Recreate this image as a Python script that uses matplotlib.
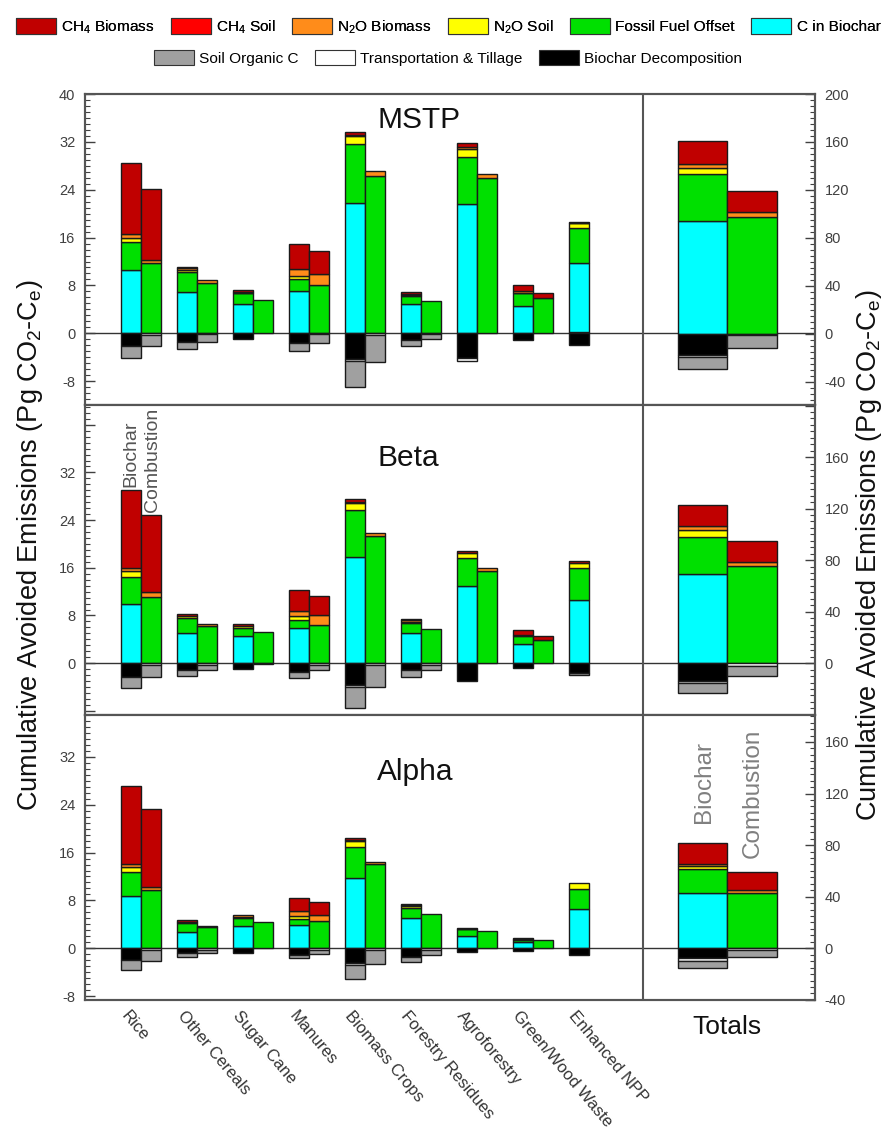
import numpy as np
import matplotlib.pyplot as plt
from matplotlib.patches import Patch
from matplotlib.ticker import MultipleLocator, FixedLocator
from matplotlib.transforms import blended_transform_factory

plt.rcParams['font.family'] = ['Liberation Sans', 'DejaVu Sans']
plt.rcParams['mathtext.default'] = 'regular'

categories = ["Rice", "Other Cereals", "Sugar Cane", "Manures", "Biomass Crops",
              "Forestry Residues", "Agroforestry", "Green/Wood Waste", "Enhanced NPP"]

components = ["CH$_4$ Biomass", "CH$_4$ Soil", "N$_2$O Biomass", "N$_2$O Soil",
              "Fossil Fuel Offset", "C in Biochar", "Soil Organic C",
              "Transportation & Tillage", "Biochar Decomposition"]
colors = ["#C00000", "#FF0000", "#FF8C1A", "#FFFF00", "#00E000", "#00FFFF",
          "#A0A0A0", "#FFFFFF", "#000000"]

# rows follow `components`, columns follow `categories` (Pg CO2-Ce)
mstp_biochar = [
    [11.9, 0.2, 0.3, 4.1, 0.4, 0.3, 0.55, 1.0, 0.05],
    [0, 0, 0, 0, 0, 0, 0, 0, 0],
    [0.7, 0.3, 0.1, 1.3, 0.3, 0.15, 0.4, 0.3, 0.1],
    [0.7, 0.3, 0.1, 0.5, 1.3, 0.15, 1.3, 0.1, 0.85],
    [4.7, 3.4, 1.85, 1.9, 9.8, 1.45, 7.9, 2.1, 5.85],
    [10.5, 6.9, 4.85, 7.1, 21.8, 4.85, 21.6, 4.6, 11.4],
    [-2.1, -1.3, 0, -1.2, -4.2, -1.0, 0, 0, 0.3],
    [0, 0, 0, 0, -0.35, 0, -0.5, 0, 0],
    [-2.1, -1.4, -1.0, -1.7, -4.35, -1.1, -4.2, -1.2, -1.95],
]
mstp_combustion = [
    [11.95, 0, 0, 3.9, 0, 0, 0, 0.95, 0],
    [0, 0, 0, 0, 0, 0, 0, 0, 0],
    [0.55, 0.5, 0, 1.9, 0.85, 0, 0.7, 0, 0],
    [0, 0, 0, 0, 0, 0, 0, 0, 0],
    [11.7, 8.47, 5.57, 8.0, 26.35, 5.4, 26.0, 5.85, 0],
    [0, 0, 0, 0, 0, 0, 0, 0, 0],
    [-1.8, -1.25, 0, -1.4, -4.55, -0.85, 0, 0, 0],
    [-0.28, -0.15, 0, -0.15, -0.3, -0.15, 0, 0, 0],
    [0, 0, 0, 0, 0, 0, 0, 0, 0],
]
mstp_total_biochar = [18.7, 0, 4.0, 5.0, 39.0, 94.0, -10.0, -2.2, -17.3]
mstp_total_combustion = [17.3, 0, 4.7, 0, 97.0, 0, -10.3, -1.4, 0]

beta_biochar = [
    [13.0, 0.45, 0.3, 3.5, 0.45, 0.23, 0.4, 0.8, 0.3],
    [0, 0, 0, 0, 0, 0, 0, 0, 0],
    [0.6, 0, 0, 0.95, 0.2, 0.25, 0, 0.2, 0],
    [0.9, 0.3, 0.35, 0.55, 1.2, 0.2, 0.85, 0, 0.83],
    [4.5, 2.55, 1.45, 1.45, 7.9, 1.68, 4.75, 1.3, 5.37],
    [10.0, 5.0, 4.5, 5.83, 17.8, 5.04, 12.9, 3.2, 10.6],
    [-2.0, -0.9, 0, -1.06, -3.6, -1.1, 0, 0, -0.43],
    [0, 0, 0, 0, -0.3, 0, 0, 0, 0],
    [-2.25, -1.23, -1.0, -1.46, -3.65, -1.23, -2.97, -0.84, -1.57],
]
beta_combustion = [
    [12.9, 0, 0, 3.3, 0, 0, 0, 0.6, 0],
    [0, 0, 0, 0, 0, 0, 0, 0, 0],
    [0.8, 0.34, 0, 1.67, 0.55, 0, 0.47, 0, 0],
    [0, 0, 0, 0, 0, 0, 0, 0, 0],
    [11.1, 6.16, 5.2, 6.33, 21.3, 5.77, 15.5, 3.9, 0],
    [0, 0, 0, 0, 0, 0, 0, 0, 0],
    [-2.05, -0.82, 0, -0.82, -3.62, -0.82, 0, 0, 0],
    [-0.3, -0.28, -0.1, -0.28, -0.38, -0.28, 0, 0, 0],
    [0, 0, 0, 0, 0, 0, 0, 0, 0],
]
beta_total_biochar = [16.3, 0, 3.1, 5.7, 28.5, 69.4, -7.8, -1.8, -13.7]
beta_total_combustion = [16.1, 0, 3.3, 0, 75.1, 0, -8.0, -1.8, 0]

alpha_biochar = [
    [13.0, 0.3, 0, 2.2, 0.3, 0.2, 0.1, 0.15, 0],
    [0, 0, 0, 0, 0, 0, 0, 0, 0],
    [0.5, 0, 0.25, 0.74, 0.2, 0.2, 0, 0.1, 0],
    [0.86, 0.15, 0.25, 0.6, 0.9, 0.3, 0.1, 0, 0.96],
    [4.08, 1.5, 1.26, 0.96, 5.3, 1.7, 1.1, 0.45, 3.4],
    [8.66, 2.8, 3.74, 3.9, 11.7, 5.0, 2.1, 1.0, 6.54],
    [-1.67, -0.56, 0, -0.6, -2.4, -0.95, 0, 0, 0],
    [0, 0, 0, 0, -0.3, 0, 0, 0, 0],
    [-1.96, -0.84, -0.84, -1.1, -2.5, -1.4, -0.67, -0.4, -1.2],
]
alpha_combustion = [
    [13.0, 0, 0, 2.2, 0, 0, 0, 0, 0],
    [0, 0, 0, 0, 0, 0, 0, 0, 0],
    [0.52, 0.1, 0, 0.9, 0.4, 0, 0, 0, 0],
    [0, 0, 0, 0, 0, 0, 0, 0, 0],
    [9.78, 3.55, 4.36, 4.6, 14.1, 5.75, 2.9, 1.4, 0],
    [0, 0, 0, 0, 0, 0, 0, 0, 0],
    [-1.77, -0.54, 0, -0.7, -2.3, -0.8, 0, 0, 0],
    [-0.3, -0.3, 0, -0.3, -0.3, -0.3, 0, 0, 0],
    [0, 0, 0, 0, 0, 0, 0, 0, 0],
]
alpha_total_biochar = [15.8, 0, 1.5, 2.9, 18.6, 42.6, -5.9, -1.85, -7.75]
alpha_total_combustion = [14.2, 0, 2.6, 0, 42.6, 0, -5.7, -1.3, 0]

# stacking order away from zero
POS_ORDER = [6, 5, 4, 3, 2, 1, 0]
NEG_ORDER = [8, 7, 6]
EDGE = "#1a1a1a"
FRAME = "#555555"
TICK_COL = "#404040"


def stacked(ax, lefts, layers, width):
    layers = np.asarray(layers, dtype=float)
    lefts = np.atleast_1d(lefts)
    pos = np.zeros(len(lefts))
    neg = np.zeros(len(lefts))
    for k in POS_ORDER:
        v = layers[k]
        m = v > 0
        if m.any():
            ax.bar(lefts[m], v[m], width, bottom=pos[m], align="edge",
                   color=colors[k], edgecolor=EDGE, linewidth=1.0, zorder=3)
            pos[m] += v[m]
    for k in NEG_ORDER:
        v = layers[k]
        m = v < 0
        if m.any():
            ax.bar(lefts[m], v[m], width, bottom=neg[m], align="edge",
                   color=colors[k], edgecolor=EDGE, linewidth=1.0, zorder=3)
            neg[m] += v[m]


panels = [
    dict(name="MSTP", top=94, bot=404.5, ylim=(-11.9, 40), rlim=(-59, 200),
         lticks=[-8, 0, 8, 16, 24, 32, 40], lshow=[-8, 0, 8, 16, 24, 32, 40],
         rshow=[-40, 0, 40, 80, 120, 160, 200], title_y=0.915,
         bio=mstp_biochar, comb=mstp_combustion,
         tbio=mstp_total_biochar, tcomb=mstp_total_combustion),
    dict(name="Beta", top=404.5, bot=715, ylim=(-8.7, 43.4), rlim=(-40.2, 200.8),
         lticks=[-8, 0, 8, 16, 24, 32, 40], lshow=[0, 8, 16, 24, 32],
         rshow=[0, 40, 80, 120, 160], title_y=0.828,
         bio=beta_biochar, comb=beta_combustion,
         tbio=beta_total_biochar, tcomb=beta_total_combustion),
    dict(name="Alpha", top=715, bot=1000, ylim=(-8.65, 39.0), rlim=(-40.1, 180.9),
         lticks=[-8, 0, 8, 16, 24, 32], lshow=[-8, 0, 8, 16, 24, 32],
         rshow=[-40, 0, 40, 80, 120, 160], title_y=0.80,
         bio=alpha_biochar, comb=alpha_combustion,
         tbio=alpha_total_biochar, tcomb=alpha_total_combustion),
]

FW, FH = 896, 1132
fig = plt.figure(figsize=(FW / 100, FH / 100), dpi=100)

x = np.arange(len(categories))
bw = 0.357
divider = 8.96
axes = []
for p in panels:
    ax = fig.add_axes([85 / FW, 1 - p["bot"] / FH, 730 / FW, (p["bot"] - p["top"]) / FH])
    ax2 = ax.twinx()
    ax.set_xlim(-1.0, 12.04)
    ax.set_ylim(*p["ylim"])
    ax2.set_ylim(*p["rlim"])

    ax.axhline(0, color="#333333", lw=1.0, zorder=1)
    ax.axvline(divider, color=FRAME, lw=1.5, zorder=4)

    bio = np.array(p["bio"], dtype=float)
    comb = np.array(p["comb"], dtype=float)
    stacked(ax, x - bw, bio, bw)
    stacked(ax, x[:-1], comb[:, :-1], bw)

    stacked(ax2, [9.6], np.array(p["tbio"], dtype=float)[:, None], 0.865)
    stacked(ax2, [10.465], np.array(p["tcomb"], dtype=float)[:, None], 0.89)

    for a in (ax, ax2):
        for s in a.spines.values():
            s.set_color(FRAME)
            s.set_linewidth(1.5)
    ax.set_xticks([])
    ax.yaxis.set_major_locator(FixedLocator(p["lticks"]))
    ax.yaxis.set_minor_locator(MultipleLocator(1))
    ax.set_yticklabels([str(t) if t in p["lshow"] else "" for t in p["lticks"]])
    ax.tick_params(axis="y", which="both", direction="in", left=True, right=False,
                   colors=TICK_COL, labelsize=10.5, pad=7)
    ax.tick_params(axis="y", which="major", length=7, width=1)
    ax.tick_params(axis="y", which="minor", length=3.5, width=0.8)

    rt = list(range(-40, 201, 40))
    ax2.yaxis.set_major_locator(FixedLocator(rt))
    ax2.yaxis.set_minor_locator(MultipleLocator(5))
    ax2.set_yticklabels([str(t) if t in p["rshow"] else "" for t in rt])
    ax2.tick_params(axis="y", which="both", direction="in", right=True, left=False,
                    colors=TICK_COL, labelsize=10.5, pad=7)
    ax2.tick_params(axis="y", which="major", length=7, width=1)
    ax2.tick_params(axis="y", which="minor", length=3.5, width=0.8)

    ax.text(0.4, p["title_y"], p["name"], transform=ax.transAxes, fontsize=21.5,
            ha="left", va="center", color="#111111")
    axes.append((ax, ax2))

# scenario labels over the rice bars and the alpha totals
ax_b = axes[1][0]
rice_bio_top = sum(v for v in np.array(beta_biochar)[:, 0] if v > 0)
rice_comb_top = sum(v for v in np.array(beta_combustion)[:, 0] if v > 0)
ax_b.text(-0.18, rice_bio_top + 0.6, "Biochar", rotation=90, ha="center", va="bottom",
          fontsize=14, color="#555555")
ax_b.text(0.2, rice_comb_top + 0.6, "Combustion", rotation=90, ha="center", va="bottom",
          fontsize=14, color="#555555")

ax_t = axes[2][1]
tb_top = sum(v for v in alpha_total_biochar if v > 0)
tc_top = sum(v for v in alpha_total_combustion if v > 0)
ax_t.text(10.05, tb_top + 16, "Biochar", rotation=90, ha="center", va="bottom",
          fontsize=17.5, color="#808080")
ax_t.text(10.93, tc_top + 10.5, "Combustion", rotation=90, ha="center", va="bottom",
          fontsize=17.5, color="#808080")

# category labels under the bottom panel
ax_bottom = axes[2][0]
trans = blended_transform_factory(ax_bottom.transData, ax_bottom.transAxes)
for i, name in enumerate(categories):
    ax_bottom.text(i - 0.2, -0.03, name, transform=trans, rotation=-50,
                   rotation_mode="anchor", ha="left", va="top", fontsize=12,
                   color="#333333")
ax_bottom.text(10.46, -0.095, "Totals", transform=trans, ha="center", va="center",
               fontsize=19, color="#111111")

ylabel = "Cumulative Avoided Emissions (Pg CO$_2$-C$_e$)"
fig.text(30 / FW, 1 - 545 / FH, ylabel, rotation=90, ha="center", va="center",
         fontsize=19.5, color="#111111")
fig.text(869 / FW, 1 - 555 / FH, ylabel, rotation=90, ha="center", va="center",
         fontsize=19.5, color="#111111")

handles = [Patch(facecolor=c, edgecolor="#333333", linewidth=0.8) for c in colors]
leg_kw = dict(frameon=False, fontsize=11.1, handlelength=2.6, handleheight=1.15,
              handletextpad=0.35, columnspacing=1.05, borderaxespad=0, borderpad=0)
leg1 = fig.legend(handles[:6], components[:6], loc="center", ncol=6,
                  bbox_to_anchor=(0.5, 1 - 27 / FH), **leg_kw)
fig.add_artist(leg1)
fig.legend(handles[6:], components[6:], loc="center", ncol=3,
           bbox_to_anchor=(0.5, 1 - 58 / FH), **leg_kw)

fig.savefig("out.png", dpi=100)
